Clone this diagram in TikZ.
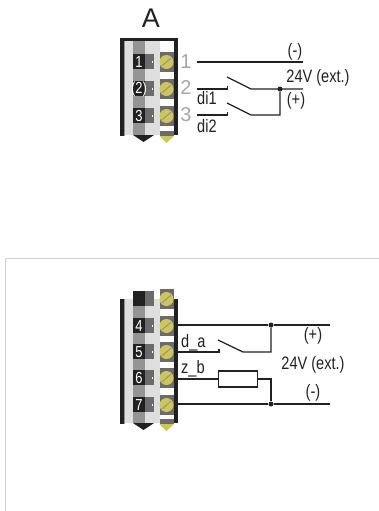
\documentclass[tikz,border=0pt]{standalone}
\usepackage{fontspec}
\setmainfont{Liberation Sans}
\newfontfamily\narrowfont[FakeStretch=0.81]{Liberation Sans}
\definecolor{cdark}{gray}{.13}
\definecolor{cmid}{gray}{.58}
\definecolor{clight}{gray}{.87}
\definecolor{cbox}{gray}{.42}
\definecolor{cscrew}{RGB}{205,198,92}
\definecolor{cpin}{gray}{.65}
\tikzset{
    wire/.style={line width=1.25pt, draw=cdark},
    lbl/.style={font=\narrowfont\fontsize{18}{18}\selectfont, text=cdark, inner sep=0pt},
    pinlbl/.style={font=\fontsize{20}{20}\selectfont, text=cpin, inner sep=0pt},
    numlbl/.style={font=\narrowfont\fontsize{16}{16}\selectfont, text=white, inner sep=0pt},
    joint/.style={circle, fill=cdark, inner sep=0pt, minimum size=5pt}
}
% #1 name, #2 y of the row, #3 number
\newcommand{\xRow}[3]{
    \fill[cdark](133, #2-8)rectangle(145, #2+7);
    \fill[cbox](145, #2-8)rectangle(154, #2+7);
    \fill[white](151.5, #2-1)rectangle(153, #2+1);
    \node[numlbl](#1)at(139, #2){#3};
    \fill[cbox](159.5, #2-10)rectangle(174, #2+10);
    \fill[cscrew](166.5, #2)circle(7);
    \draw[cmid, line width=1pt](161.8, #2+4)--(171.2, #2-4);
}
% #1 top, #2 bottom of the body
\newcommand{\xBody}[2]{
    \fill[clight](123, #1)rectangle(160, #2);
    \fill[cmid](133, #1)rectangle(145, #2);
    \fill[white](160, #1)rectangle(174, #2);
    \fill[cdark](120, #1)rectangle(123.5, #2+1);
    \fill[cmid](123.5, #1)rectangle(125, #2+1);
    \fill[cdark](174, #1)rectangle(178, #2);
    \fill[cdark](133, #2)--(154, #2)--(143.5, #2+7)--cycle;
    \fill[cbox](159.5, #2-4)rectangle(174, #2+1);
    \fill[cscrew](159.5, #2+1)--(174, #2+1)--(166.5, #2+8)--cycle;
}
\begin{document}
\begin{tikzpicture}[x=1pt, y=-1pt]
    \useasboundingbox(0, 0)rectangle(379, 511);
    % upper terminal
    \node[inner sep=0pt, font=\fontsize{27}{27}\selectfont, text=cdark](titleA)at(151, 18){A};
    \xBody{39}{135}
    \fill[cdark](120, 38)rectangle(178, 41);
    \xRow{n1}{62}{1}
    \xRow{n2}{89}{(2)}
    \xRow{n3}{116}{3}
    \foreach \p/\y in {1/62, 2/88, 3/115}
        \node[pinlbl](p\p)at(186, \y){\p};
    \coordinate(a1)at(197, 62);
    \coordinate(b1)at(303, 62);
    \coordinate(a2)at(197, 89);
    \coordinate(t2)at(227.5, 89);
    \coordinate(u2)at(227.5, 86);
    \coordinate(s2)at(227, 77);
    \coordinate(c2)at(251, 89);
    \node[joint](j1)at(280, 89){};
    \coordinate(b2)at(303, 89);
    \coordinate(a3)at(197, 115);
    \coordinate(t3)at(227.5, 115);
    \coordinate(u3)at(227.5, 112);
    \coordinate(s3)at(227, 103);
    \coordinate(c3)at(251, 115);
    \coordinate(k3)at(280, 115);
    \draw[wire](a1)--(b1);
    \draw[wire](a2)--(t2)--(u2);
    \draw[wire](s2)--(c2)--(b2);
    \draw[wire](a3)--(t3)--(u3);
    \draw[wire](s3)--(c3)--(k3)--(j1);
    \node[lbl, anchor=west](di1)at(197, 98){di1};
    \node[lbl, anchor=west](di2)at(197, 126){di2};
    \node[lbl](minusA)at(295, 52){(-)};
    \node[lbl](extA)at(318, 78){24V (ext.)};
    \node[lbl](plusA)at(296, 101){(+)};
    % lower frame
    \draw[draw=gray!35, line width=.8pt](5, 511)--(5, 258.5)--(379, 258.5);
    % lower terminal
    \xBody{299}{423}
    \fill[cdark](133, 291)rectangle(145, 306);
    \fill[cbox](145, 291)rectangle(154, 306);
    \fill[cbox](159.5, 289)rectangle(174, 309);
    \fill[cscrew](166.5, 299)circle(7);
    \draw[cmid, line width=1pt](161.8, 303)--(171.2, 295);
    \xRow{n4}{326}{4}
    \xRow{n5}{352}{5}
    \xRow{n6}{378}{6}
    \xRow{n7}{405}{7}
    \coordinate(a4)at(178, 325);
    \node[joint](j2)at(271, 325){};
    \coordinate(b4)at(330, 325);
    \coordinate(a5)at(178, 352);
    \coordinate(t5)at(219, 352);
    \coordinate(u5)at(219, 349);
    \coordinate(s5)at(218, 340);
    \coordinate(c5)at(243, 352);
    \coordinate(k5)at(271, 352);
    \coordinate(a6)at(178, 379);
    \node[draw=cdark, line width=1.25pt, minimum width=39pt, minimum height=16pt, inner sep=0pt, anchor=west](res)at(218, 379){};
    \coordinate(k6)at(271, 379);
    \coordinate(a7)at(178, 404);
    \node[joint](j3)at(271, 404){};
    \coordinate(b7)at(330, 404);
    \draw[wire](a4)--(j2)--(b4);
    \draw[wire](a5)--(t5)--(u5);
    \draw[wire](s5)--(c5)--(k5)--(j2);
    \draw[wire](a6)--(res.west);
    \draw[wire](res.east)--(k6)--(j3);
    \draw[wire](a7)--(j3)--(b7);
    \node[lbl, anchor=west](da)at(181, 343){d\_a};
    \node[lbl, anchor=west](zb)at(181, 369){z\_b};
    \node[lbl](plusB)at(313, 336){(+)};
    \node[lbl](extB)at(313, 365){24V (ext.)};
    \node[lbl](minusB)at(313, 393){(-)};
\end{tikzpicture}
\end{document}
